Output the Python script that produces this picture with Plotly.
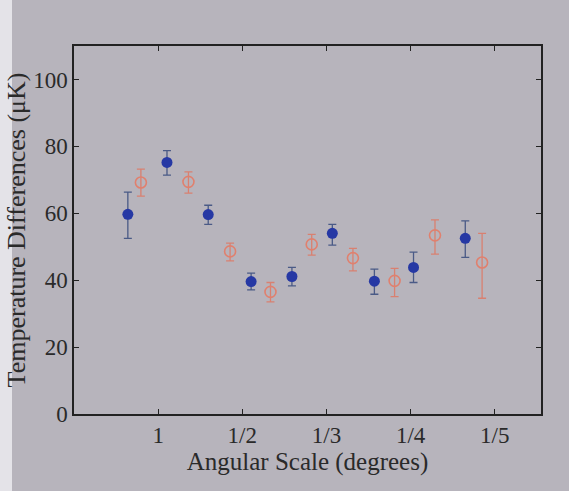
import plotly.graph_objects as go

# Angular scale expressed as multipole l (200 -> 1 degree, 400 -> 1/2, ...)
tick_vals = [200, 400, 600, 800, 1000]
tick_text = ["1", "1/2", "1/3", "1/4", "1/5"]

blue_l = [128, 221, 319, 421, 518, 614, 714, 807, 930]
blue_t = [59.7, 75.2, 59.6, 39.6, 41.1, 54.0, 39.7, 43.8, 52.5]
blue_up = [66.3, 78.7, 62.4, 42.1, 43.8, 56.7, 43.3, 48.4, 57.7]
blue_lo = [52.5, 71.4, 56.7, 37.1, 38.3, 50.5, 35.8, 39.3, 46.8]

red_l = [159, 272, 371, 467, 565, 663, 762, 858, 970]
red_t = [69.2, 69.4, 48.6, 36.5, 50.7, 46.6, 39.8, 53.4, 45.3]
red_up = [73.2, 72.4, 51.1, 39.3, 53.7, 49.5, 43.5, 58.0, 54.0]
red_lo = [65.1, 66.0, 45.8, 33.5, 47.5, 42.8, 35.1, 47.8, 34.6]

bg = "#b7b4bc"
font = "Liberation Serif, Times New Roman, serif"

fig = go.Figure()
fig.add_trace(go.Scatter(
    x=blue_l, y=blue_t, mode="markers",
    marker=dict(symbol="circle", size=11, color="#2638a4", line=dict(width=0)),
    error_y=dict(type="data", symmetric=False,
                 array=[u - v for u, v in zip(blue_up, blue_t)],
                 arrayminus=[v - l for v, l in zip(blue_t, blue_lo)],
                 color="#4a5a86", thickness=1.3, width=4),
    showlegend=False))
fig.add_trace(go.Scatter(
    x=red_l, y=red_t, mode="markers",
    marker=dict(symbol="circle-open", size=11, color="#e0806e", line=dict(width=1.6)),
    error_y=dict(type="data", symmetric=False,
                 array=[u - v for u, v in zip(red_up, red_t)],
                 arrayminus=[v - l for v, l in zip(red_t, red_lo)],
                 color="#d98070", thickness=1.3, width=4),
    showlegend=False))

axis_common = dict(showline=True, linecolor="#222222", linewidth=1.5, mirror="ticks",
                   ticks="inside", ticklen=5, tickcolor="#222222", showgrid=False,
                   zeroline=False, tickfont=dict(family=font, size=23, color="#2a2a2a"))

fig.update_layout(
    width=569, height=491,
    paper_bgcolor=bg, plot_bgcolor=bg,
    margin=dict(l=74, r=28, t=46, b=77),
    xaxis=dict(range=[0, 1110], tickvals=tick_vals, ticktext=tick_text,
               title=dict(text="Angular Scale (degrees)", font=dict(family=font, size=25, color="#2a2a2a"),
                          standoff=0), **axis_common),
    yaxis=dict(range=[0, 110], tickvals=[0, 20, 40, 60, 80, 100],
               title=dict(text="Temperature Differences (μK)", font=dict(family=font, size=26, color="#2a2a2a"),
                          standoff=0), **axis_common),
    shapes=[dict(type="rect", xref="paper", yref="paper", x0=-74/467, x1=-62/467, y0=-1, y1=2,
                 fillcolor="#e4e3e8", line=dict(width=0), layer="below")],
)

fig.write_html("out.html", config={"displayModeBar": False},
               post_script="document.body.style.margin='0';")
